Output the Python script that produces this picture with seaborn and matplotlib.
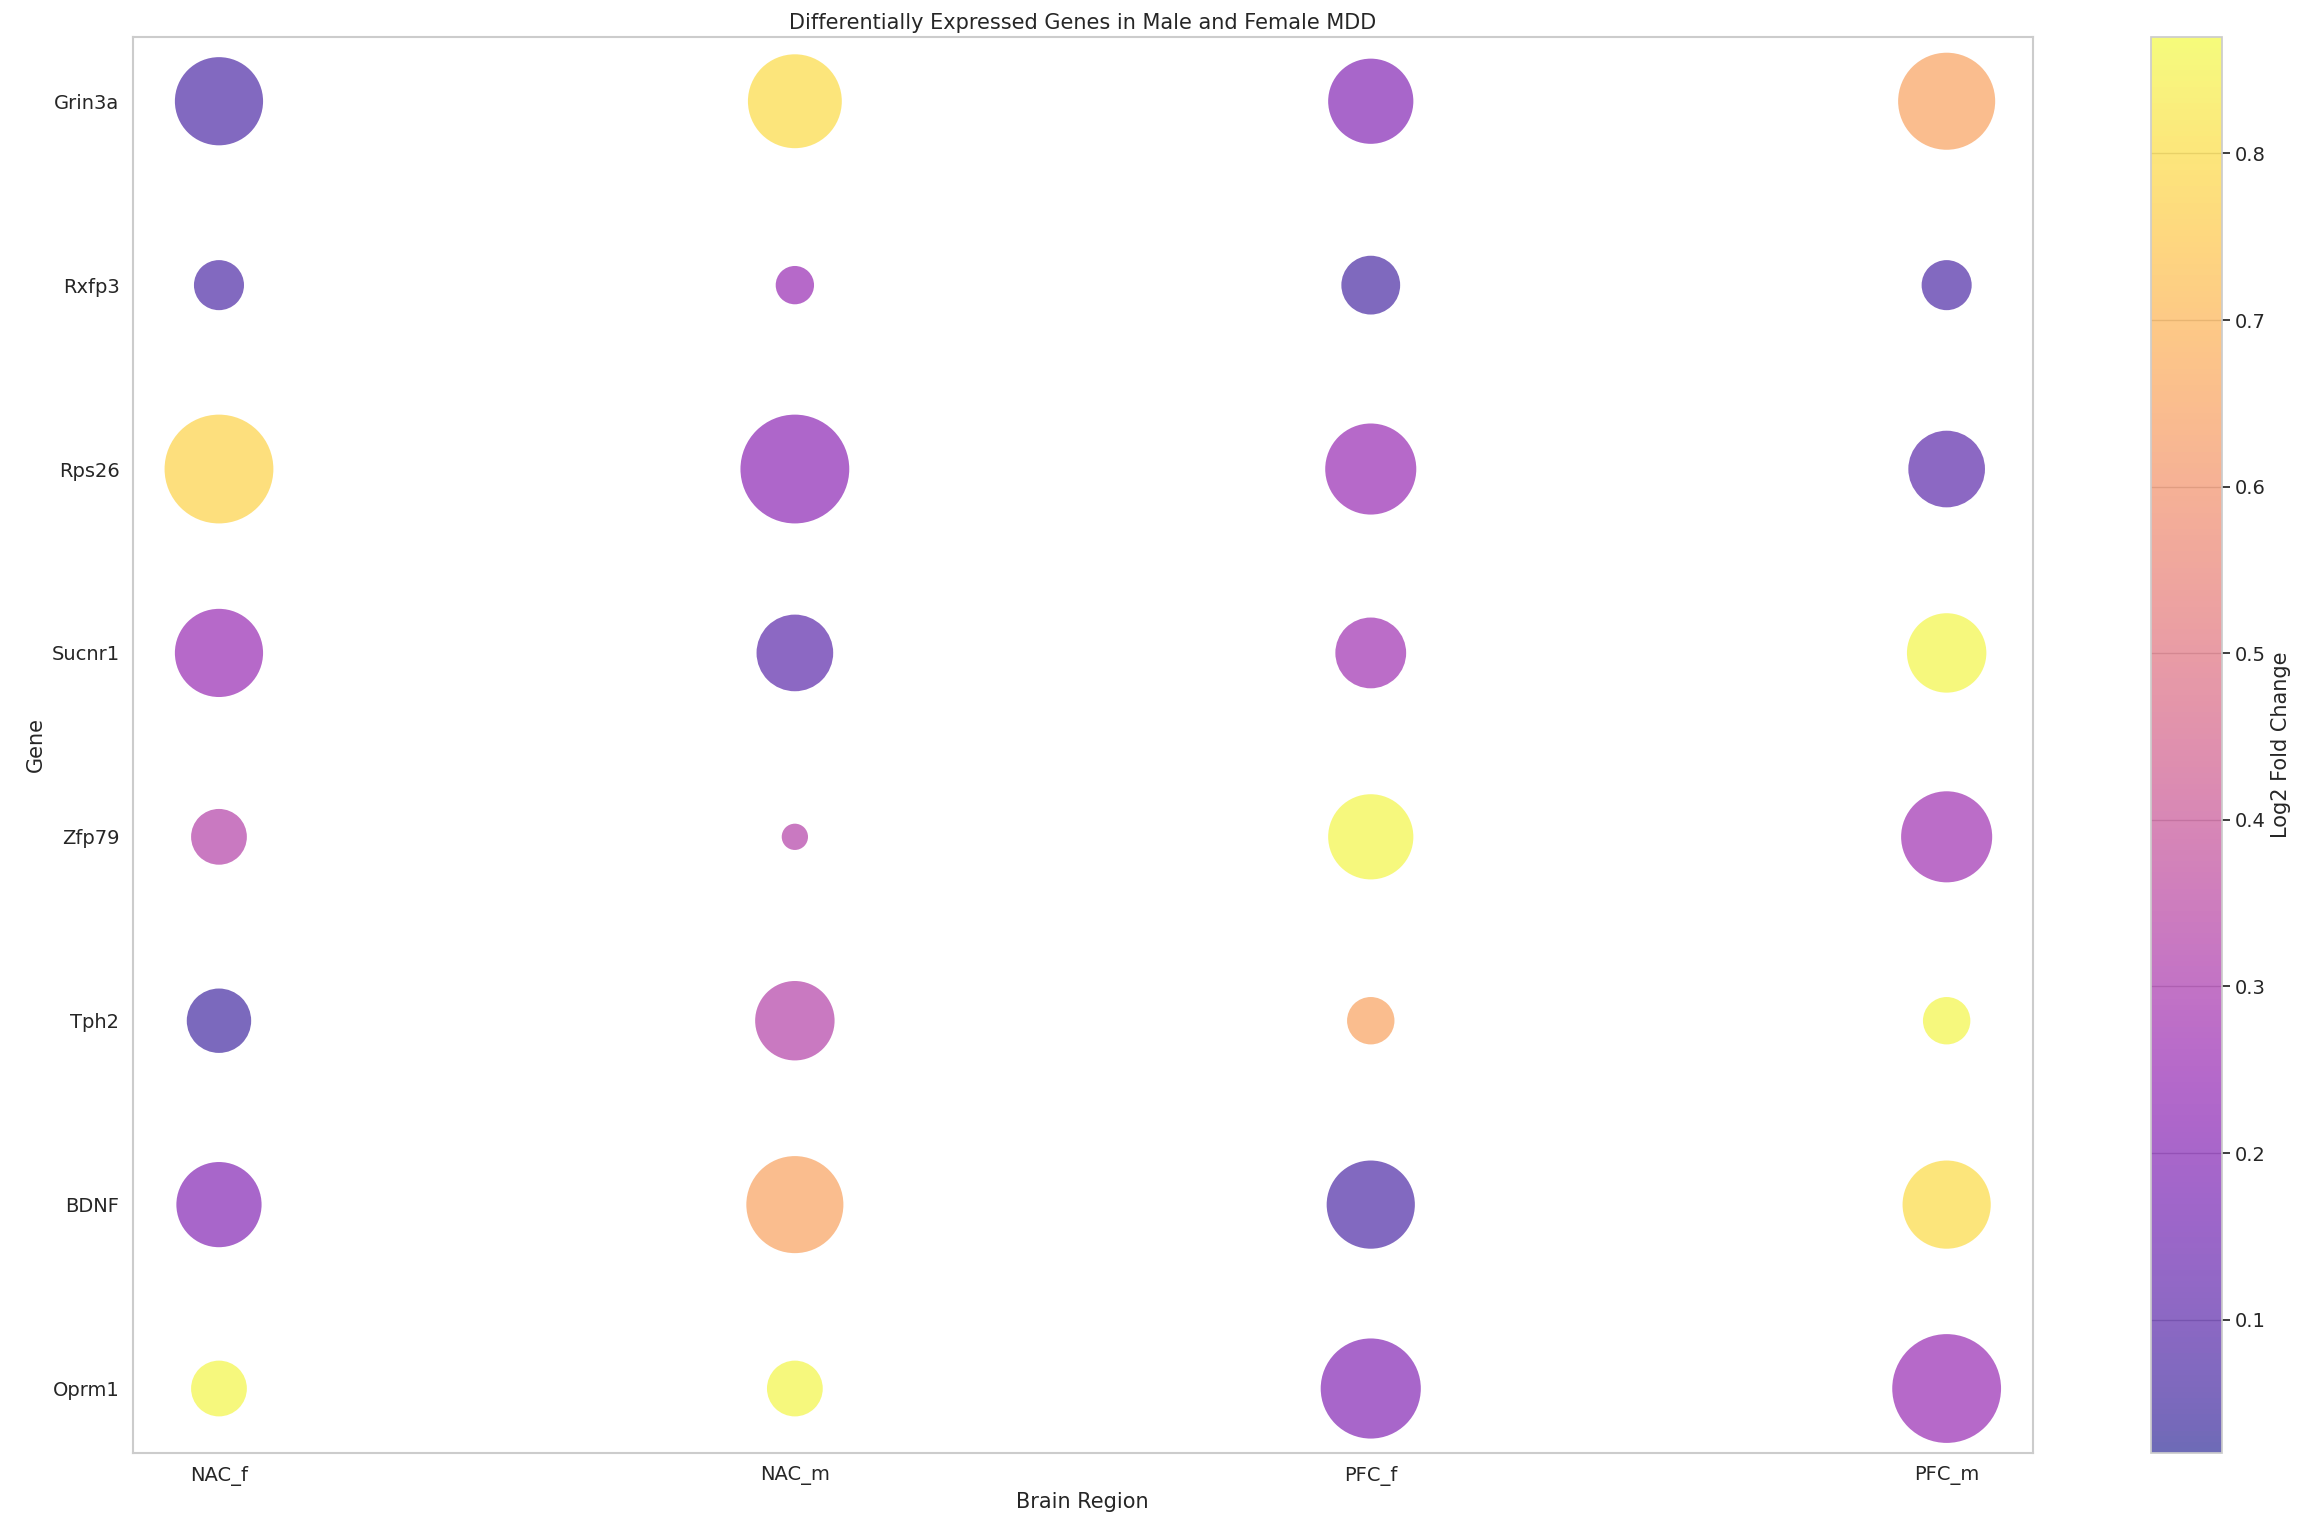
import numpy as np
import pandas as pd
import matplotlib
matplotlib.use("Agg")
import matplotlib.pyplot as plt
import seaborn as sns

regions = ["NAC_f", "NAC_m", "PFC_f", "PFC_m"]
genes = ["Grin3a", "Rxfp3", "Rps26", "Sucnr1", "Zfp79", "Tph2", "BDNF", "Oprm1"]
# log2 fold change per gene (rows) x region (cols)
log2fc = [
    [0.07, 0.80, 0.20, 0.65],
    [0.07, 0.25, 0.06, 0.07],
    [0.78, 0.22, 0.25, 0.10],
    [0.25, 0.10, 0.27, 0.86],
    [0.33, 0.33, 0.86, 0.27],
    [0.05, 0.33, 0.65, 0.86],
    [0.20, 0.65, 0.07, 0.80],
    [0.86, 0.86, 0.20, 0.25],
]
# significance (bubble size)
signif = [
    [9.0, 10.2, 8.4, 10.9],
    [2.9, 1.7, 4.0, 2.9],
    [13.7, 13.7, 9.6, 6.8],
    [9.0, 6.8, 5.8, 7.3],
    [3.6, 0.8, 8.4, 9.6],
    [4.8, 7.3, 2.6, 2.6],
    [8.4, 10.9, 9.0, 9.0],
    [3.6, 3.6, 11.6, 13.7],
]

rows = []
for gi, g in enumerate(genes):
    for ri, r in enumerate(regions):
        rows.append(dict(gene=g, gi=gi, region=r, ri=ri,
                         lfc=log2fc[gi][ri], sig=signif[gi][ri]))
df = pd.DataFrame(rows)

sns.set_theme(style="whitegrid")
fig = plt.figure(figsize=(23.1, 15.34), dpi=100)
ax = fig.add_axes([90/1568, 1-985/1040, 1290/1568, 960/1040])
cax = fig.add_axes([1460/1568, 1-985/1040, 48/1568, 960/1040])

vmin, vmax = 0.02, 0.87
norm = plt.Normalize(vmin, vmax)
smin, smax = df.sig.min(), df.sig.max()
sns.scatterplot(data=df, x="ri", y="gi", hue="lfc", size="sig",
                palette="plasma", hue_norm=norm,
                sizes=(448*smin, 448*smax), size_norm=(smin, smax),
                alpha=0.6, edgecolor="none", legend=False, ax=ax)
ax.grid(False)
ax.set_xlim(-0.15, 3.15)
ax.set_ylim(7.35, -0.35)
ax.set_xticks(range(len(regions)))
ax.set_xticklabels(regions, fontsize=14)
ax.set_yticks(range(len(genes)))
ax.set_yticklabels(genes, fontsize=14)
ax.set_xlabel("Brain Region", fontsize=15)
ax.set_ylabel("Gene", fontsize=15)
ax.set_title("Differentially Expressed Genes in Male and Female MDD", fontsize=15, pad=6)
for s in ax.spines.values():
    s.set_color("#cccccc")
    s.set_linewidth(1.5)

sm = plt.cm.ScalarMappable(cmap="plasma", norm=norm)
cb = fig.colorbar(sm, cax=cax, alpha=0.6)
cb.set_label("Log2 Fold Change", fontsize=15)
cb.ax.tick_params(labelsize=14)
cb.outline.set_edgecolor("#cccccc")

fig.savefig("out.png", dpi=100)
